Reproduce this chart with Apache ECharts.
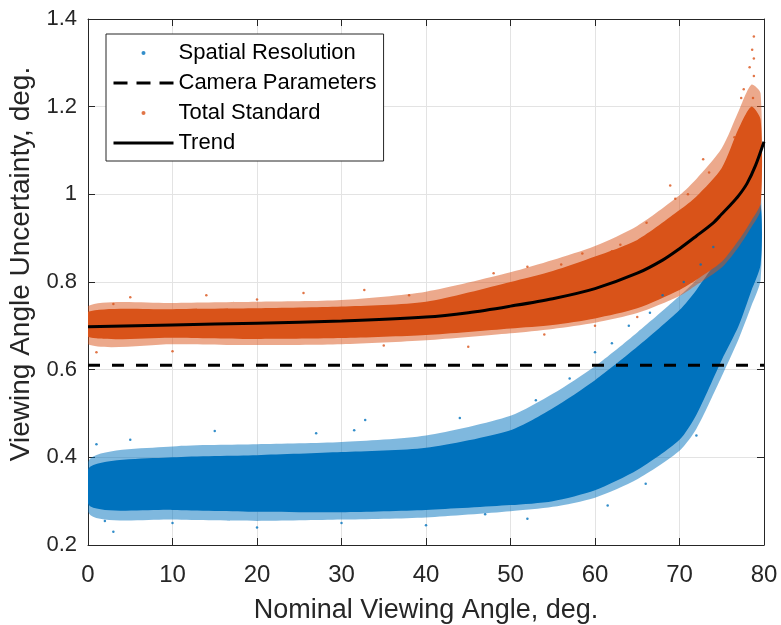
<!DOCTYPE html>
<html><head><meta charset="utf-8">
<script src="https://cdn.jsdelivr.net/npm/echarts@6/dist/echarts.min.js"></script>
<style>html,body{margin:0;padding:0;background:#fff}#c{width:781px;height:625px}</style>
</head><body><div id="c"></div>
<script>
// ---- data ----
const xTicks = [0, 10, 20, 30, 40, 50, 60, 70, 80];
const yTicks = [0.2, 0.4, 0.6, 0.8, 1.0, 1.2, 1.4];

// Total Standard (orange) cloud envelope
const totX        = [0, 10, 20, 30, 40, 50, 55, 60, 65, 70, 72, 75, 77, 78.5, 79.6];
const totCoreLow  = [0.675, 0.673, 0.670, 0.672, 0.679, 0.694, 0.702, 0.717, 0.740, 0.782, 0.805, 0.846, 0.895, 0.940, 0.980];
const totCoreHigh = [0.732, 0.738, 0.740, 0.744, 0.755, 0.800, 0.825, 0.858, 0.896, 0.964, 0.995, 1.060, 1.150, 1.200, 1.170];
const totOutLow   = [0.658, 0.658, 0.656, 0.658, 0.667, 0.683, 0.693, 0.707, 0.729, 0.768, 0.793, 0.833, 0.880, 0.925, 0.965];
const totOutHigh  = [0.745, 0.752, 0.755, 0.759, 0.778, 0.822, 0.850, 0.882, 0.928, 0.998, 1.035, 1.105, 1.190, 1.250, 1.230];
const totPoints = [[78.8,1.36],[78.6,1.33],[78.8,1.31],[78.3,1.29],[78.8,1.27],[78.7,1.22],[77.6,1.24],[77.3,1.22],
  [76.5,1.13],[75.8,1.06],[74.5,1.04],[72.8,1.08],[68.9,1.02],[66.1,0.935],[63,0.885],[58.5,0.865],[52,0.835],
  [48,0.82],[32.7,0.782],[25.5,0.775],[14,0.77],[5,0.765],[1,0.64],[10,0.642],[45,0.652],[60,0.70],[54,0.68],
  [71,1.0],[69.5,0.99],[73.5,1.05],[62,0.87],[56,0.84],[38,0.77],[20,0.76],[3,0.75],[35,0.655],[65,0.72]];

// Spatial Resolution (blue) cloud envelope
const resX        = [0.3, 10, 20, 30, 40, 50, 55, 60, 65, 70, 72, 75, 77, 78.5, 79.6];
const resCoreLow  = [0.288, 0.280, 0.276, 0.275, 0.280, 0.291, 0.300, 0.325, 0.371, 0.440, 0.497, 0.622, 0.700, 0.780, 0.840];
const resCoreHigh = [0.379, 0.400, 0.405, 0.412, 0.422, 0.462, 0.512, 0.576, 0.652, 0.736, 0.782, 0.866, 0.940, 0.990, 0.975];
const resOutLow   = [0.268, 0.258, 0.255, 0.258, 0.263, 0.277, 0.287, 0.308, 0.350, 0.415, 0.465, 0.585, 0.670, 0.745, 0.805];
const resOutHigh  = [0.398, 0.425, 0.430, 0.435, 0.450, 0.495, 0.545, 0.608, 0.685, 0.768, 0.805, 0.890, 0.965, 1.035, 1.010];
const resPoints = [[32.8,0.485],[31.5,0.462],[27,0.455],[15,0.46],[5,0.44],[1,0.43],[44,0.49],[60,0.64],[62,0.66],
  [66.5,0.73],[68,0.77],[72.5,0.84],[3,0.23],[2,0.255],[20,0.24],[40,0.245],[52,0.26],[61.5,0.29],
  [57,0.58],[53,0.53],[64,0.70],[70.5,0.80],[74,0.88],[10,0.25],[30,0.25],[47,0.27],[66,0.34],[72,0.45]];

// Camera Parameters (constant) and Trend
const cameraX = [0, 80];
const cameraY = [0.61, 0.61];
const trendX = [0, 10, 20, 30, 40, 45, 50, 55, 60, 65, 68, 70, 72, 74, 75, 76, 77, 78, 79, 80];
const trendY = [0.698, 0.702, 0.706, 0.711, 0.720, 0.730, 0.745, 0.762, 0.785, 0.820, 0.850, 0.876, 0.905, 0.935, 0.955, 0.975, 0.997, 1.025, 1.066, 1.120];

// ---- build ----
const BLUE = '#0072BD', ORANGE = '#D95319', AX = '#262626';
const pairs = (xs, ys) => xs.map((x, i) => [x, ys[i]]);

// closed outline of a band: along the upper edge, back along the lower edge
function bandSeries(name, xs, lo, hi, color, opacity) {
  const ring = pairs(xs, hi).concat(pairs(xs, lo).reverse());
  return {
    name: name, type: 'custom', silent: true, clip: true,
    data: ring,
    encode: { x: 0, y: 1 },
    renderItem: function (params, api) {
      if (params.dataIndex !== 0) return null;
      const pts = ring.map(p => api.coord(p));
      return {
        type: 'polygon',
        shape: { points: pts, smooth: 0.25 },
        style: { fill: color, opacity: opacity, stroke: null }
      };
    }
  };
}

const chart = echarts.init(document.getElementById('c'), null, { renderer: 'canvas' });
const FONT = 'Liberation Sans, Arial, Helvetica, sans-serif';
chart.setOption({
  animation: false,
  textStyle: { fontFamily: FONT },
  grid: { left: 88, top: 19, right: 17, bottom: 80, containLabel: false, outerBoundsMode: 'none' },
  legend: {
    data: [
      { name: 'Spatial Resolution' },
      { name: 'Camera Parameters', itemStyle: { opacity: 0 }, lineStyle: { width: 3, type: [14, 9] } },
      { name: 'Total Standard' },
      { name: 'Trend', itemStyle: { opacity: 0 }, lineStyle: { width: 3 } }
    ],
    orient: 'vertical', left: 106, top: 34,
    itemWidth: 60, itemHeight: 4, itemGap: 8,
    padding: [8, 7, 7, 6],
    backgroundColor: '#fff', borderColor: AX, borderWidth: 1,
    textStyle: { fontSize: 22, color: '#000', fontFamily: FONT }
  },
  xAxis: [{
    type: 'value', min: xTicks[0], max: xTicks[xTicks.length - 1], interval: 10,
    name: 'Nominal Viewing Angle, deg.', nameLocation: 'middle', nameGap: 52,
    nameTextStyle: { fontSize: 27, color: AX },
    axisLine: { lineStyle: { color: AX, width: 1 } },
    axisTick: { inside: true, length: 7, lineStyle: { color: AX } },
    axisLabel: { fontSize: 24, color: AX, margin: 18 },
    splitLine: { show: true, lineStyle: { color: '#e3e3e3', width: 1 } }
  }, {
    type: 'value', position: 'top', min: 0, max: 80, interval: 10,
    axisLine: { show: true, onZero: false, lineStyle: { color: AX, width: 1 } },
    axisTick: { show: true, inside: true, length: 7, lineStyle: { color: AX } },
    axisLabel: { show: false }, splitLine: { show: false }
  }],
  yAxis: [{
    type: 'value', min: yTicks[0], max: yTicks[yTicks.length - 1], interval: 0.2,
    name: 'Viewing Angle Uncertainty, deg.', nameLocation: 'middle', nameGap: 52,
    nameTextStyle: { fontSize: 28, color: AX, padding: [0, 0, 0, 36] },
    axisLine: { show: true, lineStyle: { color: AX, width: 1 } },
    axisTick: { show: true, inside: true, length: 7, lineStyle: { color: AX } },
    axisLabel: { fontSize: 22, color: AX, margin: 11 },
    splitLine: { show: true, lineStyle: { color: '#e3e3e3', width: 1 } }
  }, {
    type: 'value', position: 'right', min: 0.2, max: 1.4, interval: 0.2,
    axisLine: { show: true, onZero: false, lineStyle: { color: AX, width: 1 } },
    axisTick: { show: true, inside: true, length: 7, lineStyle: { color: AX } },
    axisLabel: { show: false }, splitLine: { show: false }
  }],
  series: [
    bandSeries('resOut', resX, resOutLow, resOutHigh, BLUE, 0.5),
    bandSeries('resCore', resX, resCoreLow, resCoreHigh, BLUE, 1),
    { name: 'Spatial Resolution', type: 'scatter', data: resPoints, symbol: 'circle', symbolSize: 2.5,
      itemStyle: { color: BLUE } },
    { name: 'Camera Parameters', type: 'line', data: pairs(cameraX, cameraY), symbol: 'none',
      lineStyle: { color: '#000', width: 3, type: [12, 12] }, itemStyle: { color: '#000' }, z: 3 },
    bandSeries('totOut', totX, totOutLow, totOutHigh, ORANGE, 0.5),
    bandSeries('totCore', totX, totCoreLow, totCoreHigh, ORANGE, 1),
    { name: 'Total Standard', type: 'scatter', data: totPoints, symbol: 'circle', symbolSize: 2.5,
      itemStyle: { color: ORANGE } },
    { name: 'Trend', type: 'line', data: pairs(trendX, trendY), symbol: 'none', smooth: 0.3,
      lineStyle: { color: '#000', width: 3 }, itemStyle: { color: '#000' }, z: 4 }
  ]
});
</script></body></html>
